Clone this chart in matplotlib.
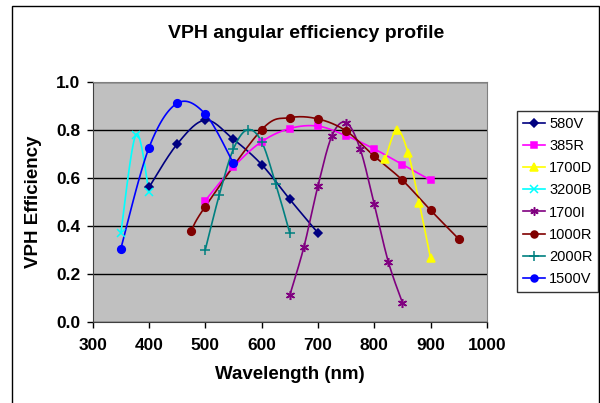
import numpy as np
import matplotlib.pyplot as plt
from matplotlib.lines import Line2D
from matplotlib.patches import Rectangle

plt.rcParams['font.family'] = ['Liberation Sans', 'DejaVu Sans']

# data
names = ['580V', '385R', '1700D', '3200B', '1700I', '1000R', '2000R', '1500V']

wl_580v = [400, 450, 500, 550, 600, 650, 700]
eff_580v = [0.56, 0.74, 0.84, 0.76, 0.655, 0.51, 0.37]

wl_385r = [500, 550, 600, 650, 700, 750, 800, 850, 900]
eff_385r = [0.505, 0.645, 0.75, 0.805, 0.815, 0.775, 0.72, 0.655, 0.59]

wl_1700d = [820, 840, 860, 880, 900]
eff_1700d = [0.68, 0.80, 0.705, 0.495, 0.265]

wl_3200b = [350, 377, 400]
eff_3200b = [0.37, 0.78, 0.54]

wl_1700i = [650, 675, 700, 725, 750, 775, 800, 825, 850]
eff_1700i = [0.11, 0.31, 0.565, 0.775, 0.83, 0.72, 0.49, 0.25, 0.08]

wl_1000r = [475, 500, 600, 650, 700, 750, 800, 850, 900, 950]
eff_1000r = [0.38, 0.48, 0.80, 0.85, 0.845, 0.795, 0.69, 0.59, 0.465, 0.345]

wl_2000r = [500, 525, 550, 575, 600, 625, 650]
eff_2000r = [0.30, 0.53, 0.72, 0.80, 0.75, 0.575, 0.37]

wl_1500v = [350, 400, 450, 500, 550]
eff_1500v = [0.305, 0.725, 0.91, 0.865, 0.66]

series_x = [wl_580v, wl_385r, wl_1700d, wl_3200b, wl_1700i, wl_1000r, wl_2000r, wl_1500v]
series_y = [eff_580v, eff_385r, eff_1700d, eff_3200b, eff_1700i, eff_1000r, eff_2000r, eff_1500v]

colors = ['#000080', '#FF00FF', '#FFFF00', '#00FFFF', '#800080', '#800000', '#008080', '#0000FF']
markers = ['D', 's', '^', 'x', (6, 2, 0), 'o', '+', 'o']
msizes = [4.5, 5, 6, 6, 6.5, 5.5, 7, 5.5]


def smooth(x, y, n=30):
    # excel style smoothed line: bezier through the points, worked out in pixel units
    px = (np.asarray(x, float) - 300) / 700 * 394
    py = np.asarray(y, float) * 240
    pts = np.column_stack([px, py])
    ext = np.vstack([pts[0], pts, pts[-1]])
    t = np.linspace(0, 1, n)[:, None]
    out = []
    for i in range(len(pts) - 1):
        p0, p1, p2, p3 = ext[i], ext[i + 1], ext[i + 2], ext[i + 3]
        c1 = p1 + (p2 - p0) / 6
        c2 = p2 - (p3 - p1) / 6
        out.append((1 - t) ** 3 * p1 + 3 * (1 - t) ** 2 * t * c1
                   + 3 * (1 - t) * t ** 2 * c2 + t ** 3 * p2)
    out = np.vstack(out)
    return out[:, 0] / 394 * 700 + 300, out[:, 1] / 240


fig = plt.figure(figsize=(6, 4.03), dpi=100)
ax = fig.add_axes([92.7 / 600, 81.3 / 403, 394.1 / 600, 240 / 403])
ax.set_facecolor('#C0C0C0')

handles = []
for x, y, c, m, ms, name in zip(series_x, series_y, colors, markers, msizes, names):
    sx, sy = smooth(x, y)
    ax.plot(sx, sy, color=c, lw=1.2, zorder=3)
    ax.plot(x, y, ls='none', marker=m, ms=ms, color=c, mec=c, mew=1.1, zorder=4)
    handles.append(Line2D([], [], color=c, lw=1.2, marker=m, ms=ms - 0.5, mec=c, mew=1.1, label=name))

ax.set_xlim(300, 1000)
ax.set_ylim(0, 1.0)
ax.set_xticks(range(300, 1001, 100))
ax.set_yticks(np.arange(0, 1.01, 0.2))
ax.set_yticklabels(['%.1f' % v for v in np.arange(0, 1.01, 0.2)])
ax.yaxis.grid(True, color='black', lw=1)
ax.set_axisbelow(True)

for s in ['top', 'right']:
    ax.spines[s].set_color('#808080')
for s in ['left', 'bottom']:
    ax.spines[s].set_color('#404040')
ax.tick_params(axis='both', direction='out', length=4, width=1, color='black', labelsize=12.5)
ax.tick_params(axis='x', pad=8)
ax.tick_params(axis='y', pad=5)
for lab in ax.get_xticklabels() + ax.get_yticklabels():
    lab.set_fontweight('bold')

ax.set_xlabel('Wavelength (nm)', fontsize=13.5, fontweight='bold', labelpad=9)
ax.set_ylabel('VPH Efficiency', fontsize=13.5, fontweight='bold', labelpad=10)
fig.text(306 / 600, 1 - 34 / 403, 'VPH angular efficiency profile', fontsize=14,
         fontweight='bold', ha='center', va='center')

leg = fig.legend(handles=handles, loc='upper left', bbox_to_anchor=(517 / 600, 1 - 111 / 403),
                 fontsize=10.5, frameon=True, fancybox=False, edgecolor='black',
                 handlelength=1.5, handletextpad=0.3, labelspacing=0.56, borderpad=0.4,
                 borderaxespad=0)
leg.get_frame().set_linewidth(1)

# outer chart border (runs off the bottom of the image)
fig.patches.append(Rectangle((12 / 600, -5 / 403), 587 / 600, 402 / 403, transform=fig.transFigure,
                             fill=False, edgecolor='black', lw=1))

fig.savefig('out.png', dpi=100)
